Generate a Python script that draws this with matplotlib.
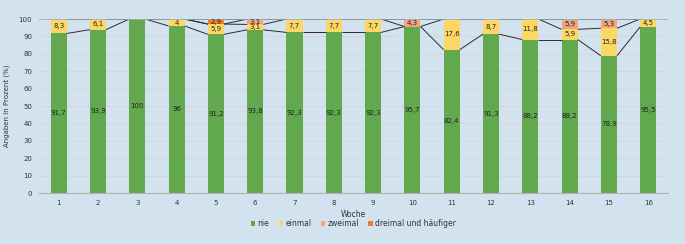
import numpy as np
import matplotlib.pyplot as plt

wochen = [str(i) for i in range(1, 17)]
nie = [91.7, 93.9, 100, 96, 91.2, 93.8, 92.3, 92.3, 92.3, 95.7, 82.4, 91.3, 88.2, 88.2, 78.9, 95.5]
einmal = [8.3, 6.1, 0, 4, 5.9, 3.1, 7.7, 7.7, 7.7, 0, 17.6, 8.7, 11.8, 5.9, 15.8, 4.5]
zweimal = [0, 0, 0, 0, 0, 3.1, 0, 0, 0, 4.3, 0, 0, 0, 5.9, 5.3, 0]
dreimal = [0, 0, 0, 0, 2.9, 0, 0, 0, 0, 0, 0, 0, 0, 0, 0, 0]

serien = [("nie", nie, "#62a84f"), ("einmal", einmal, "#fdd764"),
          ("zweimal", zweimal, "#f0a57f"), ("dreimal und häufiger", dreimal, "#ee7a34")]

bg = "#d2e3ef"
fig = plt.figure(figsize=(6.85, 2.44), dpi=100, facecolor=bg)
ax = fig.add_axes([0.057, 0.209, 0.918, 0.713], facecolor=bg)

x = np.arange(len(wochen))
breite = 0.41
unten = np.zeros(len(wochen))
for name, werte, farbe in serien:
    werte = np.array(werte)
    ax.bar(x, werte, breite, bottom=unten, color=farbe, label=name, zorder=2)
    for i in range(len(x)):
        if werte[i] > 0:
            ax.text(x[i], unten[i] + werte[i] / 2, f"{werte[i]:g}".replace(".", ","),
                    ha="center", va="center", fontsize=5, color="#222222", zorder=4)
    unten = unten + werte
    # Verbindungslinien zwischen den Balken
    for i in range(len(x) - 1):
        ax.plot([x[i] + breite / 2, x[i + 1] - breite / 2], [unten[i], unten[i + 1]],
                color="#2b2b2b", lw=0.7, zorder=3, solid_capstyle="butt")

ax.axhline(100, color="#a8acb0", lw=1.2, zorder=3.5)
ax.set_xlim(-0.5, len(wochen) - 0.5)
ax.set_ylim(0, 100)
ax.set_yticks(range(0, 101, 10))
ax.yaxis.grid(True, color="#dcd4d6", lw=0.7, zorder=0)
ax.set_axisbelow(True)
ax.set_xticks(x)
ax.set_xticklabels(wochen)
ax.tick_params(length=0, labelsize=5, colors="#333333", pad=5)
for s in ["top", "right", "left"]:
    ax.spines[s].set_visible(False)
ax.spines["bottom"].set_color("#b0b4b8")
ax.spines["bottom"].set_linewidth(0.8)

ax.set_xlabel("Woche", fontsize=5.5, color="#333333", labelpad=3)
ax.set_ylabel("Angaben in Prozent (%)", fontsize=5, color="#333333", labelpad=6)

ax.legend(loc="center", bbox_to_anchor=(0.5, -0.178), ncol=4, frameon=False,
          fontsize=5.5, handlelength=0.6, handleheight=0.6, handletextpad=0.3,
          columnspacing=1.2, labelcolor="#333333")

fig.savefig("out.png", dpi=100, facecolor=bg)
